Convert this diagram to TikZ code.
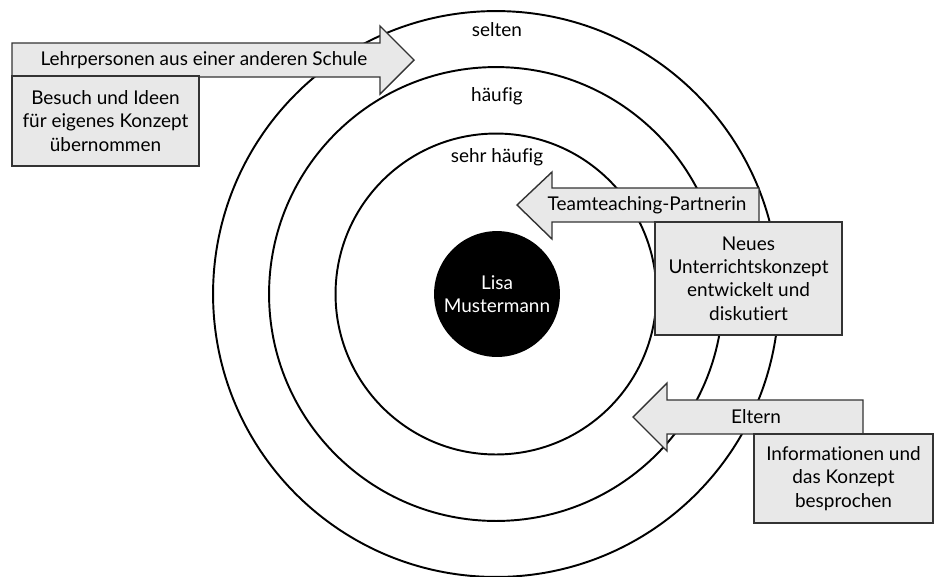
\documentclass[tikz,border=0pt]{standalone}
\usepackage{fontspec}
\setmainfont{Lato}[Ligatures={NoCommon}]
\usetikzlibrary{positioning}

\begin{document}
\begin{tikzpicture}[
    x=0.02cm, y=-0.02cm,
    ring/.style={draw, circle, line width=1.1pt, inner sep=0pt},
    ringtext/.style={font=\fontsize{10.8}{13.3}\selectfont},
    pfeil/.style={draw=black!80, fill=black!9, line width=0.8pt, line join=miter},
    kasten/.style={draw=black!80, fill=black!9, line width=0.8pt, align=center,
                   inner sep=0pt, font=\fontsize{10.8}{13.3}\selectfont},
    pfeiltext/.style={font=\fontsize{10.8}{13.3}\selectfont, inner sep=0pt}
  ]
    \useasboundingbox (0,0) rectangle (935,576);
    \coordinate (mitte) at (496,294);
    % Kreise
    \node[ring, minimum size=11.32cm] (selten) at (mitte) {};
    \node[ring, minimum size=9.08cm] (haeufig) at (mitte) {};
    \node[ring, minimum size=6.42cm] (sehrhaeufig) at (mitte) {};
    \node[ring, fill=black, minimum size=2.48cm, align=center, text=white,
          font=\fontsize{10.8}{13.3}\selectfont] (lisa) at (497,294) {Lisa\\Mustermann};
    \node[ringtext] (lselten) at (497,30) {selten};
    \node[ringtext] (lhaeufig) at (497,96) {häufig};
    \node[ringtext] (lsehr) at (497,157) {sehr häufig};
    % Lehrpersonen
    \draw[pfeil] (12,43) -- (380,43) -- (380,26) -- (414,60) -- (380,94)
                 -- (380,77) -- (12,77) -- cycle;
    \node[pfeiltext] (lehr) at (204,60) {Lehrpersonen aus einer anderen Schule};
    \node[kasten, minimum width=3.74cm, minimum height=1.8cm] (besuch) at (105.5,121)
         {Besuch und Ideen\\für eigenes Konzept\\übernommen};
    % Teamteaching
    \draw[pfeil] (759,188) -- (552,188) -- (552,172) -- (517,205) -- (552,239)
                 -- (552,222) -- (759,222) -- cycle;
    \node[pfeiltext] (team) at (647,205) {Teamteaching-Partnerin};
    \node[kasten, minimum width=3.74cm, minimum height=2.26cm] (konzept) at (748.5,278.5)
         {Neues\\Unterrichtskonzept\\entwickelt und\\diskutiert};
    % Eltern
    \draw[pfeil] (863,400) -- (667,400) -- (667,383) -- (633,417) -- (667,451)
                 -- (667,434) -- (863,434) -- cycle;
    \node[pfeiltext] (eltern) at (756,417) {Eltern};
    \node[kasten, minimum width=3.58cm, minimum height=1.78cm] (info) at (843.5,478.5)
         {Informationen und\\das Konzept\\besprochen};
  \end{tikzpicture}
\end{document}
